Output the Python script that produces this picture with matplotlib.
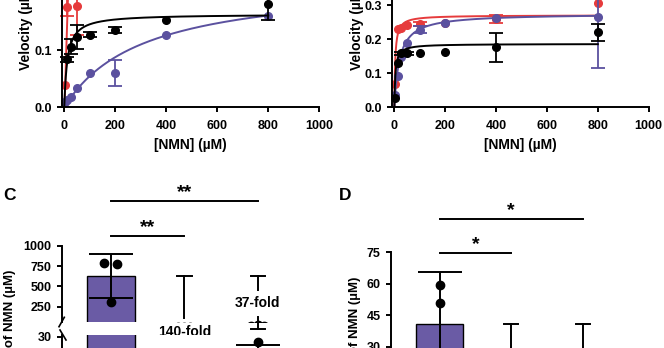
import numpy as np
import matplotlib
matplotlib.use("Agg")
import matplotlib.pyplot as plt

plt.rcParams['font.family'] = ['Liberation Sans', 'DejaVu Sans']
plt.rcParams['font.weight'] = 'bold'
plt.rcParams['axes.labelweight'] = 'bold'
plt.rcParams['axes.linewidth'] = 1.4
plt.rcParams['xtick.major.width'] = 1.4
plt.rcParams['ytick.major.width'] = 1.4
plt.rcParams['xtick.major.size'] = 3.8
plt.rcParams['ytick.major.size'] = 3.8
plt.rcParams['xtick.major.pad'] = 5
plt.rcParams['xtick.labelsize'] = 9
plt.rcParams['ytick.labelsize'] = 9

RED = '#e63b3c'
PURPLE = '#5b519f'
BAR = '#6a5ba5'

# ---- panel A : velocity vs [NMN] ----
a_red_x = [3.125, 12.5, 50]
a_red_v = [0.040, 0.176, 0.177]
a_red_e = [0, 0.015, 0.05]
a_black_x = [12.5, 25, 50, 100, 200, 400, 800]
a_black_v = [0.084, 0.106, 0.123, 0.1275, 0.136, 0.154, 0.181]
a_black_e = [0.005, 0.013, 0.021, 0.005, 0.005, 0, 0.028]
a_purple_x = [3.125, 12.5, 25, 50, 100, 200, 400, 800]
a_purple_v = [0.009, 0.0135, 0.018, 0.034, 0.060, 0.060, 0.126, 0.161]
a_purple_e = [0, 0, 0, 0, 0, 0.023, 0, 0]
# fitted curves (Vmax, K, hill n)
a_red_fit = (0.5, 20, 1.5)
a_black_fit = (0.1635, 12.3, 1)
a_purple_fit = (0.223, 307, 1)

# ---- panel B ----
b_red_x = [3.125, 12.5, 25, 50, 100, 200, 400, 800]
b_red_v = [0.068, 0.231, 0.232, 0.241, 0.244, 0.248, 0.258, 0.307]
b_red_e = [0, 0, 0, 0, 0.005, 0, 0.012, 0]
b_black_x = [3.125, 12.5, 25, 50, 100, 200, 400, 800]
b_black_v = [0.026, 0.131, 0.158, 0.158, 0.158, 0.162, 0.176, 0.220]
b_black_e = [0, 0, 0.005, 0.005, 0, 0, 0.043, 0.025]
b_purple_x = [3.125, 12.5, 25, 50, 100, 200, 400, 800]
b_purple_v = [0.037, 0.093, 0.148, 0.190, 0.227, 0.248, 0.263, 0.266]
b_purple_e = [0, 0, 0, 0, 0.010, 0, 0, 0.152]
b_red_fit = (0.27, 3.5, 1)
b_black_fit = (0.186, 4, 1)
b_purple_fit = (0.275, 20, 1)

# ---- panel C : Km of NMN ----
c_mean = [625, 4.5, 17]
c_err = [267, 2, 9]
c_points = [[785, 780, 310], [6.0, 4.5, 3.0], [27.5, 12.0, 11.5]]
c_fold = ['140-fold', '37-fold']
c_sig = ['**', '**']

# ---- panel D ----
d_mean = [40.7, 8.5, 9.0]
d_err = [25.1, 3.0, 3.0]
d_points = [[59.4, 50.7, 12.0], [11.0, 8.0, 6.5], [12.0, 8.5, 6.5]]
d_sig = ['*', '*']

W, H = 664, 348
fig = plt.figure(figsize=(W / 100, H / 100), dpi=100)


def px_axes(left, top, right, bottom):
    return fig.add_axes([left / W, 1 - bottom / H, (right - left) / W, (bottom - top) / H])


def hill(x, vmax, k, n):
    return vmax * x ** n / (k ** n + x ** n)


def style(ax):
    ax.spines['top'].set_visible(False)
    ax.spines['right'].set_visible(False)
    ax.tick_params(direction='out')


def kinetic_panel(ax, series, ytop):
    style(ax)
    xx = np.linspace(0, 800, 800)
    for x, v, e, fit, col in series:
        x, v, e = np.asarray(x), np.asarray(v), np.asarray(e)
        ax.plot(xx, hill(xx, *fit), color=col, lw=1.4)
        m = e > 0
        ax.errorbar(x[m], v[m], yerr=e[m], fmt='none', ecolor=col,
                    elinewidth=1.3, capsize=5, capthick=1.3, clip_on=False)
        ax.plot(x, v, 'o', color=col, ms=5.5, clip_on=False)
    ax.set_xlim(-10, 1000)
    ax.set_ylim(0, ytop)
    ax.set_xticks([0, 200, 400, 600, 800, 1000])
    ax.yaxis.set_major_formatter(plt.FormatStrFormatter('%.1f'))
    ax.set_xlabel('[NMN] (µM)', fontsize=10, labelpad=4.5)


axA = px_axes(61.7, 107.3 - 0.25 * 570, 319.3, 107.3)
kinetic_panel(axA, [
    (a_red_x, a_red_v, a_red_e, a_red_fit, RED),
    (a_purple_x, a_purple_v, a_purple_e, a_purple_fit, PURPLE),
    (a_black_x, a_black_v, a_black_e, a_black_fit, 'black'),
], 0.25)
axA.set_yticks([0, 0.1])

axB = px_axes(391.8, 107.3 - 0.35 * 341, 648.7, 107.3)
kinetic_panel(axB, [
    (b_red_x, b_red_v, b_red_e, b_red_fit, RED),
    (b_purple_x, b_purple_v, b_purple_e, b_purple_fit, PURPLE),
    (b_black_x, b_black_v, b_black_e, b_black_fit, 'black'),
], 0.35)
axB.set_yticks([0, 0.1, 0.2, 0.3])

fig.text(26 / W, 1 - 70 / H, 'Velocity (µM/min)', rotation=90, ha='center', va='bottom', fontsize=10)
fig.text(356.5 / W, 1 - 70 / H, 'Velocity (µM/min)', rotation=90, ha='center', va='bottom', fontsize=10)


def bar_panel(ax, mean, err, points, dx):
    pos = np.arange(len(mean))
    ax.bar(pos, mean, width=0.65, color=BAR, edgecolor='black', linewidth=1.0, zorder=1)
    ax.errorbar(pos, mean, yerr=err, fmt='none', ecolor='black', elinewidth=1.4,
                capsize=16, capthick=1.4, zorder=2)
    for i, pts in enumerate(points):
        ax.plot(pos[i] + np.asarray(dx[i]), pts, 'o', color='black', ms=6, zorder=3)
    ax.set_xticks([])


dot_dx = [[-0.09, 0.08, 0.0], [0.0, -0.09, 0.08], [0.0, -0.09, 0.08]]

# C: broken y axis, upper and lower part
axC = px_axes(61.7, 245.7, 302, 322.2)
axC2 = px_axes(61.7, 334.5, 302, 400)
for ax in (axC, axC2):
    style(ax)
    bar_panel(ax, c_mean, c_err, c_points, dot_dx)
    ax.set_xlim(-0.671, 2.6)
axC.spines['bottom'].set_visible(False)
axC.set_ylim(60, 1000)
axC.set_yticks([250, 500, 750, 1000])
axC2.set_ylim(0, 31)
axC2.set_yticks([0, 15, 30])

# break marks on the y axis
wC, hC, hC2 = 302 - 61.7, 322.2 - 245.7, 400 - 334.5
axC.plot([-2.7 / wC, 2.6 / wC], [-4.5 / hC, 4.9 / hC], color='black', lw=1.2,
         transform=axC.transAxes, clip_on=False)
axC2.plot([-1.7 / wC, 4.3 / wC], [1 + 4.5 / hC2, 1 - 5.5 / hC2], color='black', lw=1.2,
          transform=axC2.transAxes, clip_on=False)

# fold-change markers (upper-axis data units)
fold_segments = [[(625, 111), (-221, -900)], [(625, 455), (127, -28)]]
fold_caps = [[625], [625, -28]]
fold_text_y = [-60, 291]
for i, label in enumerate(c_fold):
    x = i + 1
    for y0, y1 in fold_segments[i]:
        axC.plot([x, x], [y0, y1], color='black', lw=1.4, clip_on=False)
    for yc in fold_caps[i]:
        axC.plot([x - 0.1, x + 0.1], [yc, yc], color='black', lw=1.4, clip_on=False)
    axC.text(x, fold_text_y[i], label, ha='center', va='center', fontsize=10)

# significance brackets
c_sig_pairs = [(0, 2), (0, 1)]
c_sig_y = [1550, 1119]
for (i, j), y, s in zip(c_sig_pairs, c_sig_y, c_sig):
    axC.plot([i, j], [y, y], color='black', lw=1.4, clip_on=False)
    axC.annotate(s, ((i + j) / 2, y), xytext=(0, 2.5), textcoords='offset points',
                 ha='center', va='baseline', fontsize=14, annotation_clip=False)

# D
axD = px_axes(391, 252.3, 625, 409.7)
style(axD)
bar_panel(axD, d_mean, d_err, d_points, [[0, 0, 0]] * 3)
axD.set_xlim(-0.676, 2.585)
axD.set_ylim(0, 75)
axD.set_yticks([0, 15, 30, 45, 60, 75])
for x in (1, 2):
    axD.plot([x, x], [d_mean[0], 0], color='black', lw=1.4, clip_on=False)
    axD.plot([x - 0.1, x + 0.1], [d_mean[0], d_mean[0]], color='black', lw=1.4, clip_on=False)
d_sig_pairs = [(0, 2), (0, 1)]
d_sig_y = [91, 74.8]
for (i, j), y, s in zip(d_sig_pairs, d_sig_y, d_sig):
    axD.plot([i, j], [y, y], color='black', lw=1.4, clip_on=False)
    axD.annotate(s, ((i + j) / 2, y), xytext=(0, 2.5), textcoords='offset points',
                 ha='center', va='baseline', fontsize=14, annotation_clip=False)

fig.text(10 / W, 1 - 270 / H, 'Km of NMN (µM)', rotation=90, ha='center', va='top', fontsize=9.5)
fig.text(355 / W, 1 - 277 / H, 'Km of NMN (µM)', rotation=90, ha='center', va='top', fontsize=9.5)
fig.text(3 / W, 1 - 196 / H, 'C', fontsize=12.5, va='center')
fig.text(339 / W, 1 - 196 / H, 'D', fontsize=12.5, va='center')

fig.savefig('out.png', dpi=100)
